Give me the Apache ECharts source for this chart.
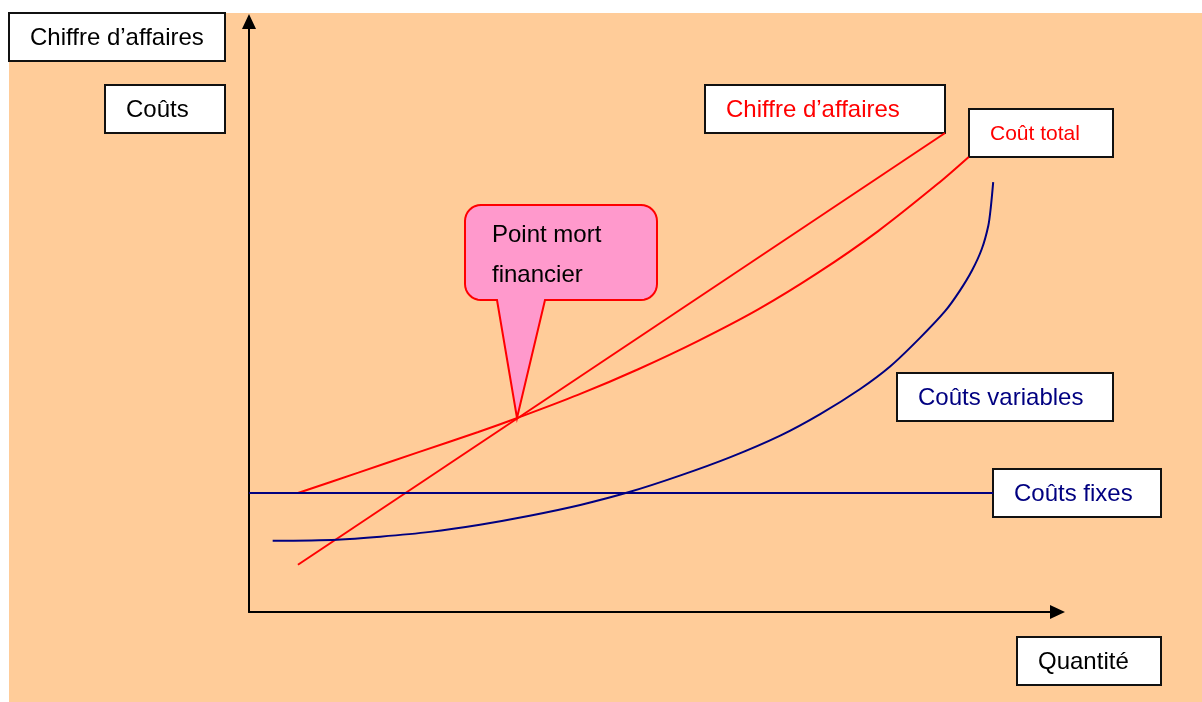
<!DOCTYPE html>
<html>
<head>
<meta charset="utf-8">
<title>Point mort financier</title>
<script src="https://cdn.jsdelivr.net/npm/echarts@6/dist/echarts.min.js"></script>
<style>
	body { margin: 0; background: #fff; }
	#fond { position: absolute; left: 9px; top: 13px; width: 1193px; height: 689px; background: #FFCC99; }
	#chart { position: absolute; left: 0; top: 0; width: 1202px; height: 702px; }
</style>
</head>
<body>
<div id="fond"></div>
<div id="chart"></div>
<script>
// quantité (x) / montant (y), unités arbitraires
var chiffreAffaires = [[6.0, 7.9], [85.3, 80.1]];
var coutTotal = [
	[6.0, 19.9], [13.4, 23.3], [20.7, 26.7], [28.1, 30.1], [32.8, 32.4], [40.3, 36.3],
	[47.7, 40.6], [55.0, 45.3], [62.4, 50.6], [69.7, 56.7], [77.1, 63.7], [84.4, 71.6],
	[88.2, 76.1]
];
var coutsVariables = [
	[2.9, 11.9], [10.8, 12.1], [16.1, 12.6], [22.2, 13.4], [28.3, 14.6], [34.4, 16.1],
	[40.6, 17.9], [46.7, 20.1], [52.8, 22.8], [59.0, 25.9], [65.1, 29.5], [70.0, 33.1],
	[74.9, 37.3], [78.6, 41.1], [82.2, 45.8], [85.3, 50.3], [87.1, 53.7], [88.6, 57.1],
	[89.8, 60.7], [90.6, 64.6], [90.9, 67.6], [91.2, 71.9]
];
var coutsFixes = [[0, 19.9], [91.2, 19.9]];

var ROUGE = '#FF0000', MARINE = '#000080', NOIR = '#000000';
var POLICE = '"Liberation Sans", Arial, sans-serif';

/**
 * boîte blanche avec un texte
 */
function boite(x, y, w, h, texte, couleur, taille, xTexte) {
	return {
		type: 'group',
		z: 100,
		children: [
			{ type: 'rect', shape: { x: x, y: y, width: w, height: h },
			  style: { fill: '#fff', stroke: '#111', lineWidth: 2 } },
			{ type: 'text', style: { text: texte, x: xTexte, y: y + h / 2 + 1, fill: couleur,
			  font: taille + 'px ' + POLICE, verticalAlign: 'middle', align: 'left' } }
		]
	};
}

/**
 * bulle "Point mort financier" (rectangle arrondi + pointe)
 */
function bulle(x0, y0, x1, y1, r, tailG, tailD, pointe) {
	var pts = [];
	function arc(cx, cy, a0, a1) {
		for (var i = 0; i <= 8; i++) {
			var a = a0 + (a1 - a0) * i / 8;
			pts.push([cx + r * Math.cos(a), cy + r * Math.sin(a)]);
		}
	}
	arc(x0 + r, y0 + r, Math.PI, Math.PI * 1.5);
	arc(x1 - r, y0 + r, Math.PI * 1.5, Math.PI * 2);
	arc(x1 - r, y1 - r, 0, Math.PI * 0.5);
	pts.push([tailD, y1]);
	pts.push(pointe);
	pts.push([tailG, y1]);
	arc(x0 + r, y1 - r, Math.PI * 0.5, Math.PI);
	return {
		type: 'group',
		z: 100,
		children: [
			{ type: 'polygon', shape: { points: pts },
			  style: { fill: '#FF99CC', stroke: ROUGE, lineWidth: 2 } },
			{ type: 'text', style: { text: 'Point mort', x: 492, y: 235, fill: NOIR,
			  font: '24px ' + POLICE, verticalAlign: 'middle' } },
			{ type: 'text', style: { text: 'financier', x: 492, y: 275, fill: NOIR,
			  font: '24px ' + POLICE, verticalAlign: 'middle' } }
		]
	};
}

var chart = echarts.init(document.getElementById('chart'));

var axe = {
	type: 'value',
	min: 0,
	axisLine: { show: true, symbol: ['none', 'triangle'], symbolSize: [14, 15],
	            lineStyle: { color: NOIR, width: 2 } },
	axisTick: { show: false },
	axisLabel: { show: false },
	splitLine: { show: false }
};

var option = {
	backgroundColor: 'transparent',
	animation: false,
	grid: { left: 249, top: 21.5, width: 808.5, height: 590.5 },
	xAxis: Object.assign({}, axe, { max: 99.08 }),
	yAxis: Object.assign({}, axe, { max: 98.75 }),
	series: [
		{ name: 'Chiffre d’affaires', type: 'line', data: chiffreAffaires, symbol: 'none',
		  lineStyle: { color: ROUGE, width: 2 } },
		{ name: 'Coût total', type: 'line', data: coutTotal, symbol: 'none', smooth: 0.3,
		  lineStyle: { color: ROUGE, width: 2 } },
		{ name: 'Coûts variables', type: 'line', data: coutsVariables, symbol: 'none', smooth: 0.3,
		  lineStyle: { color: MARINE, width: 2 } },
		{ name: 'Coûts fixes', type: 'line', data: coutsFixes, symbol: 'none',
		  lineStyle: { color: MARINE, width: 2 } }
	],
	graphic: [
		boite(9, 13, 216, 48, 'Chiffre d’affaires', NOIR, 24, 30),
		boite(105, 85, 120, 48, 'Coûts', NOIR, 24, 126),
		boite(705, 85, 240, 48, 'Chiffre d’affaires', ROUGE, 24, 726),
		boite(969, 109, 144, 48, 'Coût total', ROUGE, 21, 990),
		boite(897, 373, 216, 48, 'Coûts variables', MARINE, 24, 918),
		boite(993, 469, 168, 48, 'Coûts fixes', MARINE, 24, 1014),
		boite(1017, 637, 144, 48, 'Quantité', NOIR, 24, 1038),
		bulle(465, 205, 657, 300, 16, 497, 545, [517, 418])
	]
};

chart.setOption(option);
</script>
</body>
</html>
